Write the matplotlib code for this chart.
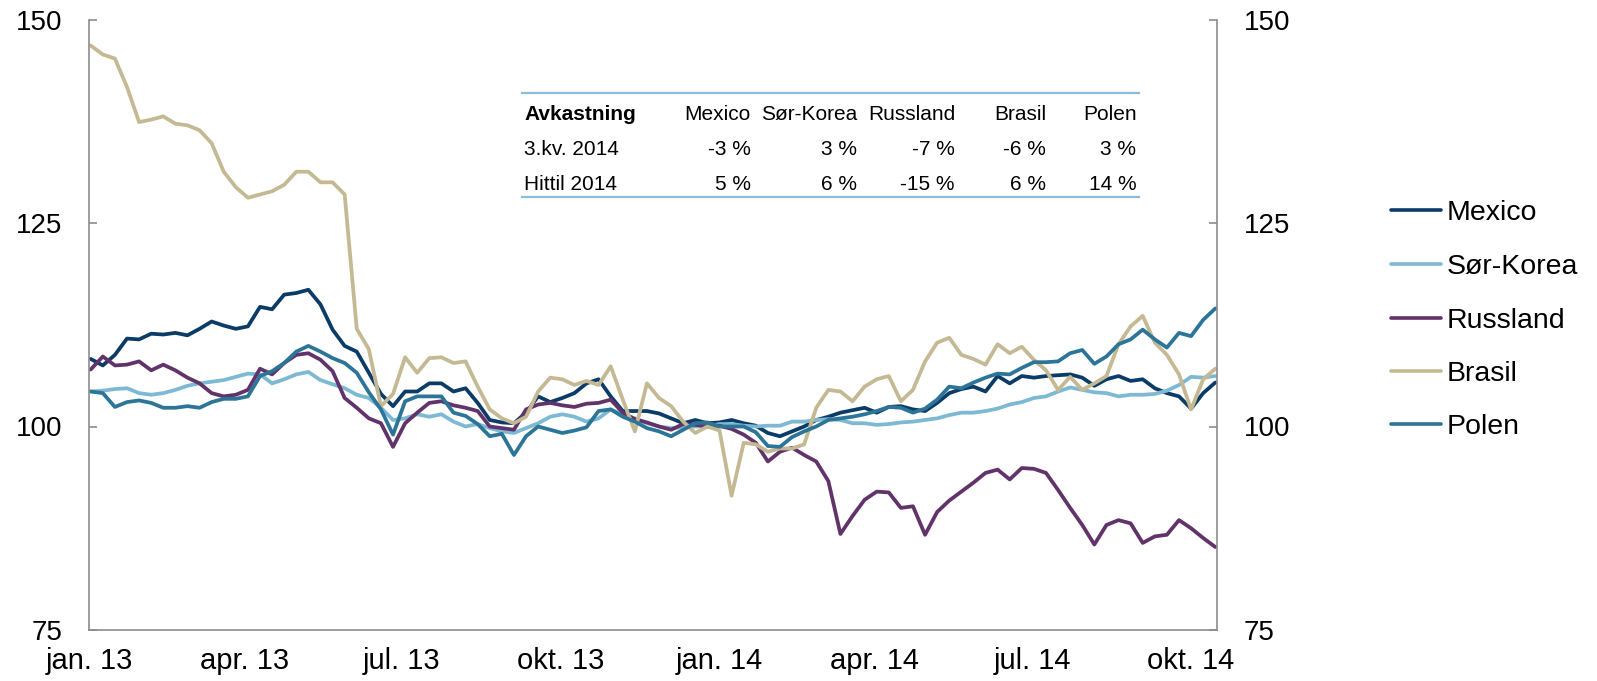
import matplotlib
matplotlib.use("Agg")
import matplotlib.pyplot as plt
from matplotlib.lines import Line2D
import pandas as pd

plt.rcParams['font.family'] = ['Liberation Sans', 'DejaVu Sans']

# ---------------- data (weekly readings) ----------------
dates = pd.date_range('2013-01-02', periods=94, freq='7D')

mexico = [108.3, 107.5, 108.8, 110.8, 110.7, 111.4, 111.3, 111.5, 111.2, 112.0, 112.9, 112.4,
          112.0, 112.3, 114.7, 114.4, 116.2, 116.4, 116.8, 115.0, 111.9, 109.9, 109.2, 106.6,
          104.0, 102.5, 104.3, 104.3, 105.3, 105.3, 104.3, 104.7, 102.9, 100.8, 100.5, 100.4,
          101.7, 103.7, 103.0, 103.5, 104.1, 105.3, 105.8, 103.7, 101.9, 101.9, 101.9, 101.6,
          101.0, 100.4, 100.8, 100.4, 100.5, 100.8, 100.4, 100.1, 99.2, 98.8, 99.4, 100.0,
          100.8, 101.2, 101.7, 102.0, 102.3, 101.7, 102.4, 102.5, 102.1, 101.9, 102.9,
          104.1, 104.6, 104.9, 104.3, 106.2, 105.3, 106.2, 106.0, 106.2, 106.3, 106.4, 106.0,
          105.0, 105.8, 106.2, 105.6, 105.8, 104.7, 104.1, 103.7, 102.2, 104.1, 105.4]

sor_korea = [104.3, 104.4, 104.6, 104.7, 104.1, 103.9, 104.1, 104.5, 105.0, 105.3, 105.5, 105.7,
             106.1, 106.5, 106.4, 105.3, 105.8, 106.4, 106.7, 105.7, 105.2, 104.7, 103.9, 103.5,
             102.3, 100.8, 101.0, 101.5, 101.2, 101.5, 100.6, 100.0, 100.3, 99.8, 99.4, 99.2,
             99.8, 100.4, 101.2, 101.5, 101.2, 100.6, 101.0, 102.1, 101.5, 101.0, 100.4, 100.0,
             99.8, 99.9, 100.0, 100.0, 100.3, 100.3, 100.1, 100.0, 100.1, 100.1, 100.6, 100.6,
             100.8, 100.9, 100.8, 100.4, 100.4, 100.2, 100.3, 100.5, 100.6, 100.8, 101.0,
             101.4, 101.7, 101.7, 101.9, 102.2, 102.7, 103.0, 103.5, 103.7, 104.3, 104.8, 104.5,
             104.2, 104.1, 103.7, 103.9, 103.9, 104.0, 104.4, 105.1, 106.1, 106.0, 106.2]

russland = [107.0, 108.6, 107.5, 107.6, 108.0, 106.9, 107.6, 106.9, 106.0, 105.3, 104.1, 103.7,
            103.9, 104.5, 107.1, 106.4, 107.8, 108.8, 109.0, 108.2, 106.8, 103.5, 102.3, 101.0,
            100.4, 97.5, 100.4, 101.7, 102.9, 103.1, 102.6, 102.3, 101.9, 100.0, 99.8, 99.6,
            102.1, 102.7, 102.9, 102.6, 102.4, 102.8, 102.9, 103.3, 101.7, 100.9, 100.5, 100.0,
            99.6, 100.3, 100.2, 100.0, 100.1, 99.7, 99.0, 98.0, 95.7, 96.9, 97.4, 96.5,
            95.7, 93.3, 86.8, 89.0, 91.0, 92.0, 91.9, 90.0, 90.2, 86.7, 89.5,
            90.9, 92.0, 93.1, 94.3, 94.7, 93.5, 94.9, 94.8, 94.3, 92.2, 90.0, 87.9,
            85.5, 87.9, 88.5, 88.1, 85.7, 86.5, 86.7, 88.5, 87.5, 86.3, 85.2]

brasil = [146.8, 145.7, 145.2, 141.7, 137.4, 137.7, 138.1, 137.2, 137.0, 136.4, 134.8, 131.3,
          129.4, 128.1, 128.5, 128.9, 129.7, 131.3, 131.3, 130.0, 130.0, 128.5, 112.0, 109.5,
          102.5, 104.0, 108.5, 106.6, 108.4, 108.5, 107.8, 108.0, 104.9, 102.1, 101.0, 100.4,
          101.2, 104.3, 106.0, 105.8, 105.1, 105.6, 105.1, 107.4, 103.3, 99.4, 105.3, 103.5,
          102.5, 100.6, 99.2, 100.0, 99.5, 91.5, 98.0, 97.8, 96.9, 97.3, 97.3, 97.8,
          102.3, 104.5, 104.3, 103.1, 104.9, 105.8, 106.2, 103.1, 104.5, 108.0, 110.3,
          110.9, 108.8, 108.3, 107.6, 110.1, 109.0, 109.8, 108.2, 106.9, 104.5, 106.1, 104.5,
          105.3, 106.2, 110.1, 112.3, 113.6, 110.3, 108.8, 106.4, 102.1, 105.8, 107.1]

polen = [104.3, 104.1, 102.4, 103.0, 103.2, 102.9, 102.3, 102.3, 102.5, 102.3, 103.0, 103.4,
         103.4, 103.7, 106.2, 106.8, 107.8, 109.2, 109.9, 109.2, 108.4, 107.8, 106.6, 104.2,
         102.1, 99.0, 103.1, 103.7, 103.7, 103.7, 101.7, 101.3, 100.3, 98.8, 99.1, 96.5,
         98.8, 100.0, 99.6, 99.2, 99.5, 99.9, 101.9, 102.1, 101.2, 100.6, 99.8, 99.4,
         98.8, 99.6, 100.4, 100.5, 100.0, 100.0, 100.0, 99.3, 97.6, 97.5, 98.7, 99.4,
         100.0, 100.8, 101.0, 101.2, 101.5, 101.9, 102.4, 102.3, 101.7, 102.2, 103.3,
         104.9, 104.7, 105.4, 106.0, 106.5, 106.4, 107.2, 107.9, 107.9, 108.0, 109.0, 109.4,
         107.7, 108.6, 110.1, 110.7, 111.9, 110.7, 109.7, 111.5, 111.1, 113.1, 114.5]

series_names = ['Mexico', 'Sør-Korea', 'Russland', 'Brasil', 'Polen']
series_values = [mexico, sor_korea, russland, brasil, polen]
colors = ['#0b3c68', '#7db9d3', '#62336a', '#c5b993', '#2c7599']

x_tick_dates = ['2013-01-01', '2013-04-01', '2013-07-01', '2013-10-01',
                '2014-01-01', '2014-04-01', '2014-07-01', '2014-10-01']
x_tick_labels = ['jan. 13', 'apr. 13', 'jul. 13', 'okt. 13',
                 'jan. 14', 'apr. 14', 'jul. 14', 'okt. 14']
y_ticks = [75, 100, 125, 150]

table_header = ['Avkastning', 'Mexico', 'Sør-Korea', 'Russland', 'Brasil', 'Polen']
table_rows = [['3.kv. 2014', '-3 %', '3 %', '-7 %', '-6 %', '3 %'],
              ['Hittil 2014', '5 %', '6 %', '-15 %', '6 %', '14 %']]

# ---------------- figure ----------------
W, H = 1597, 681
fig = plt.figure(figsize=(W / 100, H / 100), dpi=100)

def fx(px):
    return px / W

def fy(py):
    return 1 - py / H

ax_left, ax_right, ax_top, ax_bottom = 89.0, 1217.0, 19.5, 630.0
ax = fig.add_axes([fx(ax_left), fy(ax_bottom), fx(ax_right - ax_left), (ax_bottom - ax_top) / H])

for name, vals, c in zip(series_names, series_values, colors):
    ax.plot(dates, vals, color=c, lw=2.7, solid_joinstyle='round', solid_capstyle='round')

ax.set_xlim(pd.Timestamp('2013-01-01'), pd.Timestamp('2014-10-16'))
ax.set_ylim(75, 150)
ax.set_yticks(y_ticks)
ax.set_xticks(pd.to_datetime(x_tick_dates))
ax.set_xticklabels(x_tick_labels)

spine_c = '#8c8c8c'
for s in ['left', 'right', 'bottom']:
    ax.spines[s].set_color(spine_c)
    ax.spines[s].set_linewidth(1.2)
ax.spines['top'].set_visible(False)

ax.tick_params(axis='y', which='both', direction='in', left=True, right=True,
               labelleft=True, labelright=True, length=5.8, width=1.2,
               color=spine_c, pad=19, labelsize=20)
ax.tick_params(axis='x', length=0, pad=12, labelsize=21)

# ---------------- table ----------------
line_c = '#8dbcd8'
fig.add_artist(Line2D([fx(522), fx(1139)], [fy(92.7), fy(92.7)], color=line_c, lw=1.6,
                      transform=fig.transFigure))
fig.add_artist(Line2D([fx(522), fx(1139)], [fy(196.7), fy(196.7)], color=line_c, lw=1.6,
                      transform=fig.transFigure))
col_right = [750.8, 857.0, 955.0, 1046.0, 1136.5]
label_left = 524.3
baselines = [119.5, 155.0, 190.0]
fig.text(fx(label_left), fy(baselines[0]), table_header[0], fontsize=15, fontweight='bold',
         ha='left', va='baseline')
for j, h in enumerate(table_header[1:]):
    fig.text(fx(col_right[j]), fy(baselines[0]), h, fontsize=15, ha='right', va='baseline')
for i, row in enumerate(table_rows):
    fig.text(fx(label_left), fy(baselines[i + 1]), row[0], fontsize=15, ha='left', va='baseline')
    for j, v in enumerate(row[1:]):
        fig.text(fx(col_right[j]), fy(baselines[i + 1]), v, fontsize=15, ha='right', va='baseline')

# ---------------- legend ----------------
leg_y = [209.7, 264.0, 317.7, 371.0, 424.3]
for name, c, yy in zip(series_names, colors, leg_y):
    fig.add_artist(Line2D([fx(1391), fx(1441)], [fy(yy), fy(yy)], color=c, lw=2.6,
                          solid_capstyle='round', transform=fig.transFigure))
    fig.text(fx(1447), fy(yy), name, fontsize=20.5, ha='left', va='center_baseline')

fig.savefig('out.png', dpi=100)
